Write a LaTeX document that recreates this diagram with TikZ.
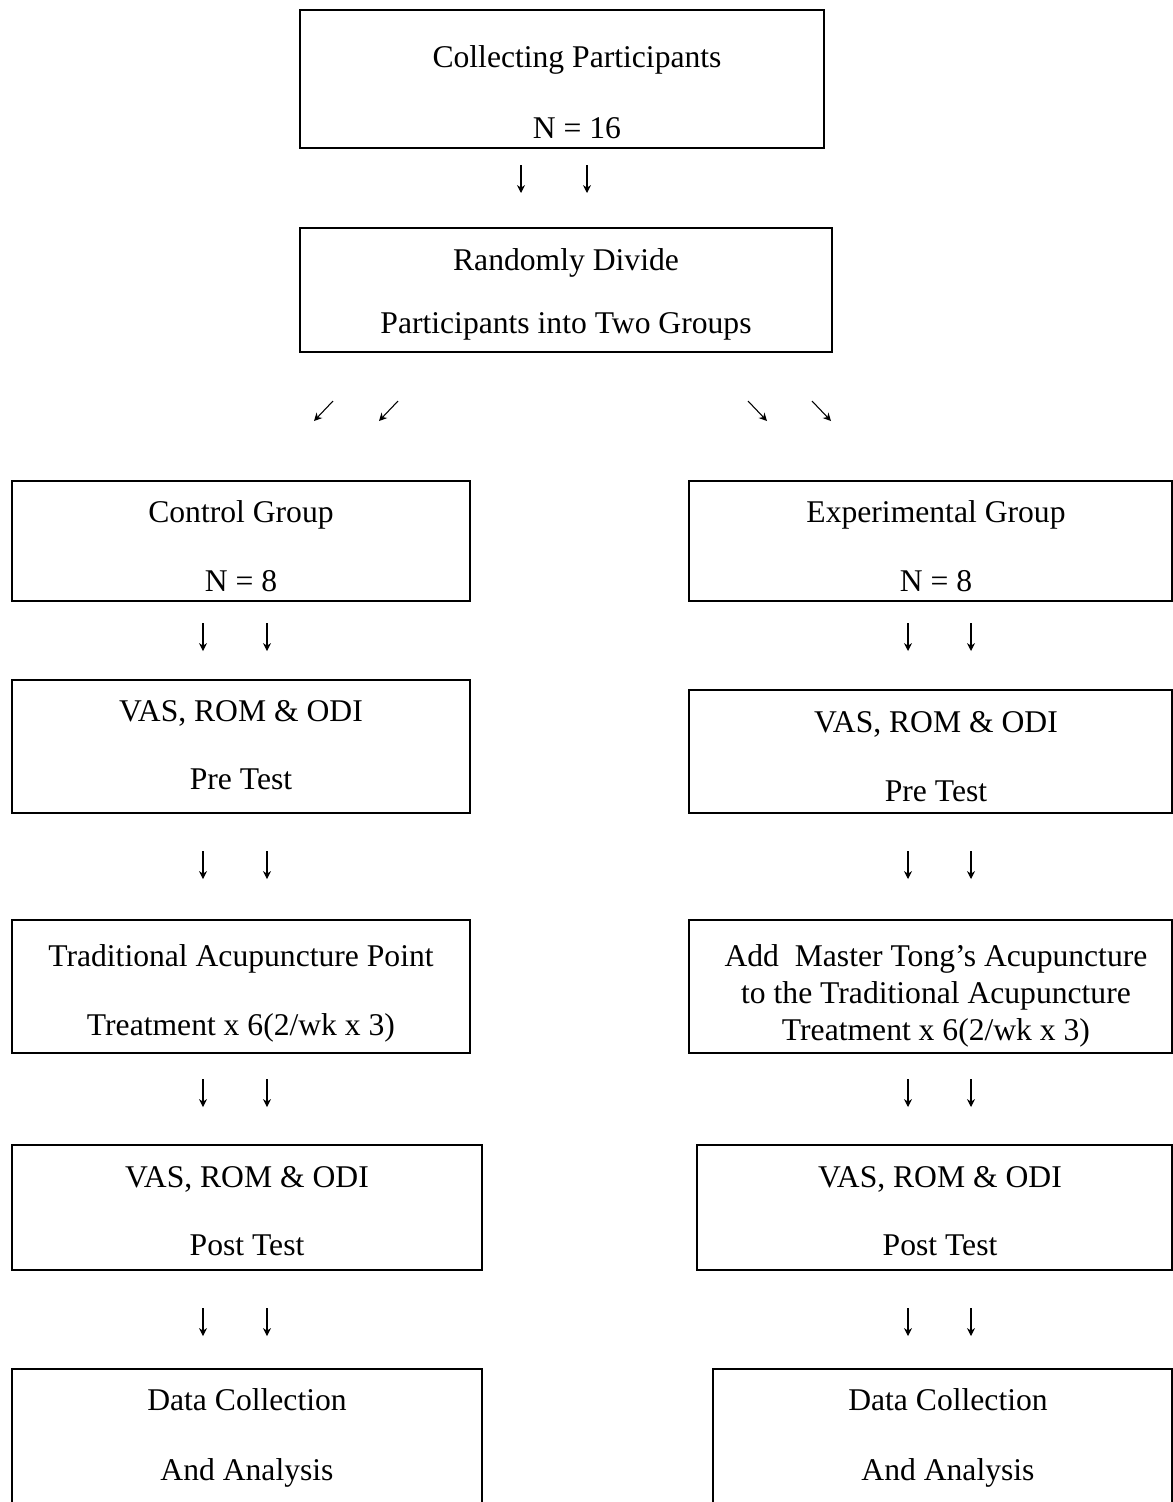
\documentclass[tikz,border=0pt]{standalone}
\usepackage{fontspec}
\setmainfont{Liberation Serif}
\usetikzlibrary{arrows.meta}

\begin{document}
\begin{tikzpicture}[x=0.02cm,y=-0.02cm,
  box/.style 2 args={draw,line width=1pt,inner sep=0pt,minimum width=#1*0.02cm,minimum height=#2*0.02cm},
  txt/.style={anchor=base,inner sep=0pt,font=\fontsize{18}{22}\selectfont},
  arr/.style={line width=0.6pt,-{Stealth[length=4.5pt,width=4.5pt]}}]

\useasboundingbox (0,0) rectangle (1173,1502) ;
\clip (0,0) rectangle (1173,1502) ;

\node [box={524}{138}] (collect) at (562,79) {} ;
\node [txt] (collect1) at (577,67) {Collecting Participants} ;
\node [txt] (collect2) at (577,138) {N = 16} ;

\node [box={532}{124}] (divide) at (566,290) {} ;
\node [txt] (divide1) at (566,270) {Randomly Divide} ;
\node [txt] (divide2) at (566,333) {Participants into Two Groups} ;

\node [box={458}{120}] (ctl) at (241,541) {} ;
\node [txt] (ctl1) at (241,522) {Control Group} ;
\node [txt] (ctl2) at (241,591) {N = 8} ;
\node [box={483}{120}] (exp) at (930.5,541) {} ;
\node [txt] (exp1) at (936,522) {Experimental Group} ;
\node [txt] (exp2) at (936,591) {N = 8} ;

\node [box={458}{133}] (ctlpre) at (241,746.5) {} ;
\node [txt] (ctlpre1) at (241,721) {VAS, ROM \& ODI} ;
\node [txt] (ctlpre2) at (241,789) {Pre Test} ;
\node [box={483}{123}] (exppre) at (930.5,751.5) {} ;
\node [txt] (exppre1) at (936,732) {VAS, ROM \& ODI} ;
\node [txt] (exppre2) at (936,801) {Pre Test} ;

\node [box={458}{133}] (ctltrt) at (241,986.5) {} ;
\node [txt] (ctltrt1) at (241,966) {Traditional Acupuncture Point} ;
\node [txt] (ctltrt2) at (241,1035) {Treatment x 6(2/wk x 3)} ;
\node [box={483}{133}] (exptrt) at (930.5,986.5) {} ;
\node [txt] (exptrt1) at (936,966) {Add\ \ Master Tong’s Acupuncture} ;
\node [txt] (exptrt2) at (936,1003) {to the Traditional Acupuncture} ;
\node [txt] (exptrt3) at (936,1040) {Treatment x 6(2/wk x 3)} ;

\node [box={470}{125}] (ctlpost) at (247,1207.5) {} ;
\node [txt] (ctlpost1) at (247,1187) {VAS, ROM \& ODI} ;
\node [txt] (ctlpost2) at (247,1255) {Post Test} ;
\node [box={475}{125}] (exppost) at (934.5,1207.5) {} ;
\node [txt] (exppost1) at (940,1187) {VAS, ROM \& ODI} ;
\node [txt] (exppost2) at (940,1255) {Post Test} ;

\node [box={470}{150}] (ctldata) at (247,1444) {} ;
\node [txt] (ctldata1) at (247,1410) {Data Collection} ;
\node [txt] (ctldata2) at (247,1480) {And Analysis} ;
\node [box={459}{150}] (expdata) at (942.5,1444) {} ;
\node [txt] (expdata1) at (948,1410) {Data Collection} ;
\node [txt] (expdata2) at (948,1480) {And Analysis} ;

\foreach \x in {521,587} \draw [arr] (\x,165) -- (\x,193) ;
\foreach \x in {333,398} \draw [arr] (\x,401) -- ++(-19,20) ;
\foreach \x in {748,812} \draw [arr] (\x,401) -- ++(19,20) ;
\foreach \y in {623,851,1079,1308}
  \foreach \x in {203,267,908,971} \draw [arr] (\x,\y) -- ++(0,28) ;

\end{tikzpicture}
\end{document}
